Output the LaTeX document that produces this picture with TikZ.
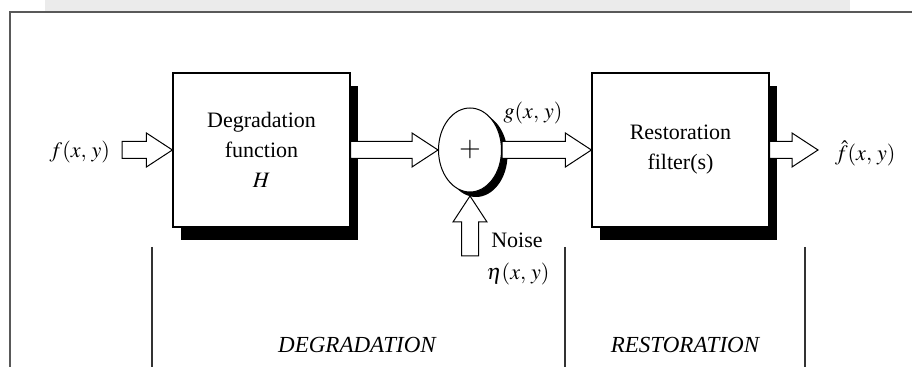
\documentclass[tikz,border=0pt]{standalone}
\usepackage{mathptmx}
\usepackage[no-math]{fontspec}
\setmainfont{Liberation Serif}
\usetikzlibrary{shapes.geometric,shadows,calc}
\tikzset{
  frame/.style={line width=0.6pt,draw=gray!70!black},
  block/.style={draw,line width=0.6pt,fill=white,align=center,inner sep=0pt,
    minimum width=88.5pt,minimum height=77pt,
    drop shadow={shadow xshift=3.75pt,shadow yshift=-6.75pt,fill=black,opacity=1}},
  adder/.style={draw,ellipse,line width=0.5pt,fill=white,inner sep=0pt,
    minimum width=31.5pt,minimum height=42pt,font=\fontsize{14}{14}\selectfont,
    drop shadow={shadow xshift=3pt,shadow yshift=-2.5pt,fill=black,opacity=1}},
  fat/.style={draw,line width=0.5pt,fill=white,to path={
    ($(\tikztostart)!4.25pt!90:(\tikztotarget)$)
    -- ($($(\tikztotarget)!13pt!(\tikztostart)$)!4.25pt!90:(\tikztotarget)$)
    -- ($($(\tikztotarget)!13pt!(\tikztostart)$)!8.5pt!90:(\tikztotarget)$)
    -- (\tikztotarget)
    -- ($($(\tikztotarget)!13pt!(\tikztostart)$)!8.5pt!-90:(\tikztotarget)$)
    -- ($($(\tikztotarget)!13pt!(\tikztostart)$)!4.25pt!-90:(\tikztotarget)$)
    -- ($(\tikztostart)!4.25pt!-90:(\tikztotarget)$) -- cycle}},
  divider/.style={line width=0.6pt,draw=black!80},
  section/.style={font=\fontsize{11.5}{14}\selectfont\itshape}
}

\begin{document}
\begin{tikzpicture}[x=0.5pt,y=-0.5pt,every node/.style={font=\fontsize{11}{15}\selectfont}]
  \useasboundingbox (0,0) rectangle (912,367);

  % page edge
  \fill[gray!16] (45,0) rectangle (850,12);
  \draw[frame] (912,12) -- (10,12) -- (10,367);

  \node[block] (deg) at (261.5,150) {Degradation\\function\\$H$};
  \node[adder] (sum) at (470,150) {$+$};
  \node[block] (rest) at (680.5,150) {Restoration\\filter(s)};

  \coordinate (in) at (122,150);
  \coordinate (out) at (818,150);
  \coordinate (ntail) at (470,256);
  \coordinate (ntip) at (470,196);

  \draw[fat] (in) to (deg.west);
  \draw[fat] (deg.east) to (sum.west);
  \draw[fat] (sum.east) to (rest.west);
  \draw[fat] (rest.east) to (out);
  \draw[fat] (ntail) to (ntip);

  \node[anchor=east] (fin) at (117,152) {$f(x,\,y)$};
  \node (g) at (533,113) {$g(x,\,y)$};
  \node[anchor=west] (fhat) at (828,153) {$\hat{f}(x,\,y)$};
  \node (noise) at (517,240) {Noise};
  \node (eta) at (518,274) {$\eta(x,\,y)$};

  % stages
  \draw[divider] (152,247) -- (152,367);
  \draw[divider] (565,247) -- (565,367);
  \draw[divider] (805,247) -- (805,367);
  \node[section] (dlab) at (357,345) {DEGRADATION};
  \node[section] (rlab) at (685,345) {RESTORATION};
\end{tikzpicture}
\end{document}
